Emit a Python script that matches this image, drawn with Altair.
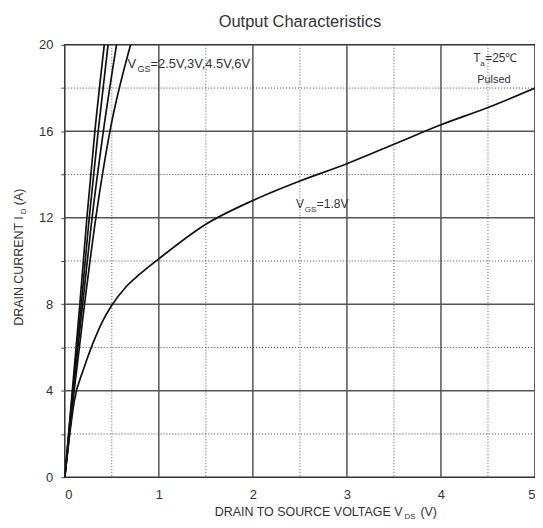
import altair as alt
import pandas as pd

# ---- data ----
id_steep = [0, 4, 8, 12, 16, 20]
vds_6v = [0, 0.08, 0.16, 0.235, 0.32, 0.42]
vds_45v = [0, 0.085, 0.175, 0.26, 0.355, 0.46]
vds_3v = [0, 0.09, 0.19, 0.29, 0.41, 0.55]
vds_25v = [0, 0.10, 0.21, 0.33, 0.48, 0.70]

vds_18v = [0, 0.05, 0.1, 0.2, 0.3, 0.4, 0.5, 0.65, 0.8, 1.0, 1.5, 2.0, 2.5, 3.0, 3.5, 4.0, 4.5, 5.0]
id_18v = [0, 1.9, 3.5, 5.0, 6.2, 7.2, 7.95, 8.8, 9.4, 10.1, 11.7, 12.8, 13.7, 14.5, 15.4, 16.3, 17.1, 18.0]

x_major = [1, 2, 3, 4]
x_minor = [0.5, 1.5, 2.5, 3.5, 4.5]
y_major = [4, 8, 12, 16]
y_minor = [2, 6, 10, 14, 18]
x_ticks = [0, 1, 2, 3, 4, 5]
y_ticks = [0, 2, 4, 6, 8, 10, 12, 14, 16, 18, 20]

FONT = "Liberation Sans"
W, H = 472, 434

rows = []
for name, xs_, ys_ in [("6V", vds_6v, id_steep), ("4.5V", vds_45v, id_steep),
                       ("3V", vds_3v, id_steep), ("2.5V", vds_25v, id_steep),
                       ("1.8V", vds_18v, id_18v)]:
    for i, (a, b) in enumerate(zip(xs_, ys_)):
        rows.append({"series": name, "i": i, "vds": a, "id": b})
df = pd.DataFrame(rows)

xs = alt.Scale(domain=[0, 5], nice=False)
ys = alt.Scale(domain=[0, 20], nice=False)

x_axis = alt.Axis(values=x_ticks, title=None, grid=False, ticks=False, domain=False,
                  labelPadding=11, labelFontSize=13, labelFont=FONT, labelColor="#333",
                  format="d")
y_axis = alt.Axis(values=y_ticks, title=None, grid=False, ticks=True, tickSize=4,
                  tickColor="#444", domain=False, labelPadding=8, labelFontSize=13,
                  labelFont=FONT, labelColor="#333",
                  labelExpr="datum.value % 4 == 0 ? datum.label : ''")

xg_major = alt.Chart(pd.DataFrame({"xv": x_major})).mark_rule(color="#555", strokeWidth=1.5).encode(
    x=alt.X("xv:Q", scale=xs, axis=x_axis))
xg_minor = alt.Chart(pd.DataFrame({"xv": x_minor})).mark_rule(color="#555", strokeWidth=1, strokeDash=[1, 2]).encode(
    x=alt.X("xv:Q", scale=xs, axis=x_axis))
yg_major = alt.Chart(pd.DataFrame({"yv": y_major})).mark_rule(color="#555", strokeWidth=1.5).encode(
    y=alt.Y("yv:Q", scale=ys, axis=y_axis))
yg_minor = alt.Chart(pd.DataFrame({"yv": y_minor})).mark_rule(color="#444", strokeWidth=1, strokeDash=[1, 2]).encode(
    y=alt.Y("yv:Q", scale=ys, axis=y_axis))

lines = alt.Chart(df).mark_line(interpolate="monotone", color="#111", strokeWidth=1.7, clip=True).encode(
    x=alt.X("vds:Q", scale=xs, axis=x_axis),
    y=alt.Y("id:Q", scale=ys, axis=y_axis),
    detail="series:N",
    order="i:Q",
)


def txt(s, x, y, size=13, align="left", angle=0, baseline="alphabetic", color="#333"):
    return alt.Chart(pd.DataFrame({"t": [s]})).mark_text(
        font=FONT, fontSize=size, align=align, baseline=baseline, angle=angle, color=color
    ).encode(text="t:N", x=alt.value(x), y=alt.value(y))


texts = [
    txt("Output Characteristics", 236, -23, size=16.5, align="center", baseline="middle"),
    txt("V", 63, 23, size=13),
    txt("GS", 73, 27, size=9),
    txt("=2.5V,3V,4.5V,6V", 86, 23, size=13),
    txt("T", 410, 17, size=12),
    txt("a", 417, 21, size=8),
    txt("=25\u2103", 422, 17, size=12),
    txt("Pulsed", 414, 38, size=11),
    txt("V", 232, 164, size=12),
    txt("GS", 241, 168, size=8),
    txt("=1.8V", 253, 164, size=12),
    txt("DRAIN TO SOURCE VOLTAGE V", 339, 473, size=12.5, align="right"),
    txt("DS", 341, 476, size=8),
    txt("(V)", 357, 473, size=12.5),
    txt("DRAIN CURRENT I", -42, 172, size=12.5, align="right", angle=270),
    txt("D", -39, 170, size=8, angle=270),
    txt("(A)", -42, 161, size=12.5, angle=270),
]

chart = alt.layer(xg_minor, yg_minor, xg_major, yg_major, lines, *texts).properties(
    width=W, height=H,
    autosize=alt.AutoSizeParams(type="none"),
    padding={"left": 57, "top": 36, "right": 0, "bottom": 42},
    background="white",
).configure_view(stroke="#333", strokeWidth=1.5).configure_axis(grid=False)

chart.save("out.html", embed_options={"renderer": "svg", "actions": False})
